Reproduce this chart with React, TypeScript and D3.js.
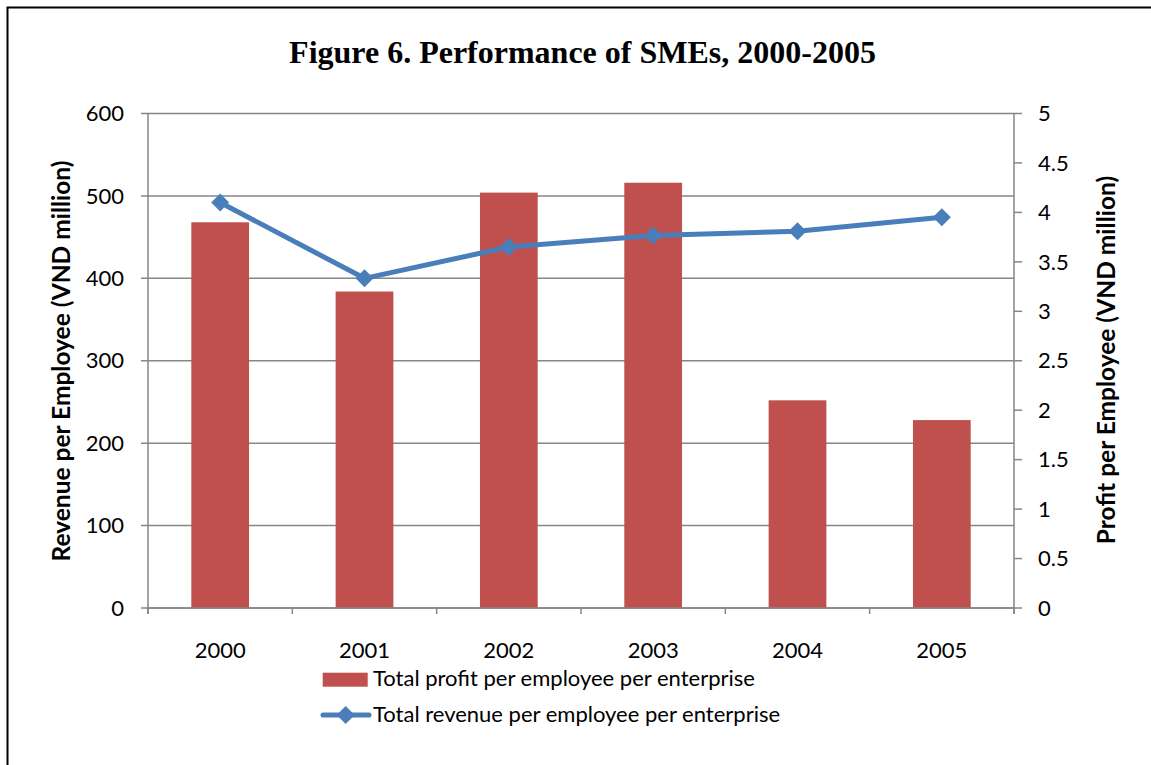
import React from "react";
import * as d3 from "d3";

const years = ["2000", "2001", "2002", "2003", "2004", "2005"];
const profit = [3.9, 3.2, 4.2, 4.3, 2.1, 1.9];
const revenue = [492, 400, 438, 452, 457, 474];
const leftTicks = [0, 100, 200, 300, 400, 500, 600];
const rightTicks = [0, 0.5, 1, 1.5, 2, 2.5, 3, 3.5, 4, 4.5, 5];

const W = 1151;
const H = 765;
const M = { left: 148, right: 1014, top: 113.5, bottom: 608 };
const FONT = "Lato, 'Open Sans', sans-serif";

export default function App() {
  const x = d3.scaleBand<string>().domain(years).range([M.left, M.right]).padding(0);
  const yL = d3.scaleLinear().domain([0, 600]).range([M.bottom, M.top]);
  const yR = d3.scaleLinear().domain([0, 5]).range([M.bottom, M.top]);
  const bw = x.bandwidth() * 0.4;
  const cx = (y: string) => (x(y) as number) + x.bandwidth() / 2;
  const line = d3
    .line<number>()
    .x((_, i) => cx(years[i]))
    .y((d) => yL(d));
  const diamond = (px: number, py: number, r: number) =>
    `M${px},${py - r}L${px + r},${py}L${px},${py + r}L${px - r},${py}Z`;
  const grey = "#868686";
  const boundaries = [...years.map((y) => x(y) as number), M.right];

  return (
    <svg
      width={W}
      height={H}
      style={{ position: "absolute", left: 0, top: 0, background: "#fff" }}
    >
      <rect x={7.5} y={7.5} width={W + 10} height={H + 10} fill="#fff" stroke="#000" strokeWidth={2} />
      <text
        x={582.5}
        y={63}
        textAnchor="middle"
        fontFamily="'Liberation Serif', 'Times New Roman', serif"
        fontWeight="bold"
        fontSize={32}
      >
        Figure 6. Performance of SMEs, 2000-2005
      </text>
      {/* gridlines */}
      {leftTicks.map((t) => (
        <line key={"g" + t} x1={M.left - 7} x2={M.right} y1={yL(t)} y2={yL(t)} stroke={grey} strokeWidth={1.5} />
      ))}
      {/* bars */}
      {profit.map((v, i) => (
        <rect
          key={"b" + i}
          x={cx(years[i]) - bw / 2}
          y={yR(v)}
          width={bw}
          height={M.bottom - yR(v)}
          fill="#c0504d"
        />
      ))}
      {/* axes */}
      <line x1={M.left} x2={M.left} y1={M.top} y2={M.bottom + 6} stroke={grey} strokeWidth={1.5} />
      <line x1={M.right} x2={M.right} y1={M.top} y2={M.bottom + 6} stroke={grey} strokeWidth={1.5} />
      <line x1={M.left} x2={M.right} y1={M.bottom} y2={M.bottom} stroke={grey} strokeWidth={1.5} />
      {boundaries.map((b, i) => (
        <line key={"xt" + i} x1={b} x2={b} y1={M.bottom} y2={M.bottom + 6} stroke={grey} strokeWidth={1.5} />
      ))}
      {rightTicks.map((t) => (
        <line key={"rt" + t} x1={M.right} x2={M.right + 8} y1={yR(t)} y2={yR(t)} stroke={grey} strokeWidth={1.5} />
      ))}
      {/* line series */}
      <path d={line(revenue) || ""} fill="none" stroke="#4a7ebb" strokeWidth={5} strokeLinejoin="round" />
      {revenue.map((v, i) => (
        <path key={"m" + i} d={diamond(cx(years[i]), yL(v), 9)} fill="#4a7ebb" />
      ))}
      {/* tick labels */}
      {leftTicks.map((t) => (
        <text key={"lt" + t} x={124} y={yL(t)} dy="0.35em" textAnchor="end" fontFamily={FONT} fontSize={22}>
          {t}
        </text>
      ))}
      {rightTicks.map((t) => (
        <text key={"rl" + t} x={1038} y={yR(t)} dy="0.35em" textAnchor="start" fontFamily={FONT} fontSize={22}>
          {t}
        </text>
      ))}
      {years.map((y) => (
        <text key={"xl" + y} x={cx(y)} y={658} textAnchor="middle" fontFamily={FONT} fontSize={22}>
          {y}
        </text>
      ))}
      {/* axis titles */}
      <text
        transform={`translate(70,361) rotate(-90)`}
        textAnchor="middle"
        fontFamily={FONT}
        fontWeight="bold"
        fontSize={24.5}
      >
        Revenue per Employee (VND million)
      </text>
      <text
        transform={`translate(1115,360) rotate(-90)`}
        textAnchor="middle"
        fontFamily={FONT}
        fontWeight="bold"
        fontSize={24.5}
      >
        Profit per Employee (VND million)
      </text>
      {/* legend */}
      <rect x={322.7} y={672.7} width={45} height={14} fill="#c0504d" />
      <text x={373} y={686} fontFamily={FONT} fontSize={22}>
        Total profit per employee per enterprise
      </text>
      <line x1={323} x2={369} y1={715} y2={715} stroke="#4a7ebb" strokeWidth={5} strokeLinecap="round" />
      <path d={diamond(345.7, 715, 9)} fill="#4a7ebb" />
      <text x={373} y={722} fontFamily={FONT} fontSize={22}>
        Total revenue per employee per enterprise
      </text>
    </svg>
  );
}
